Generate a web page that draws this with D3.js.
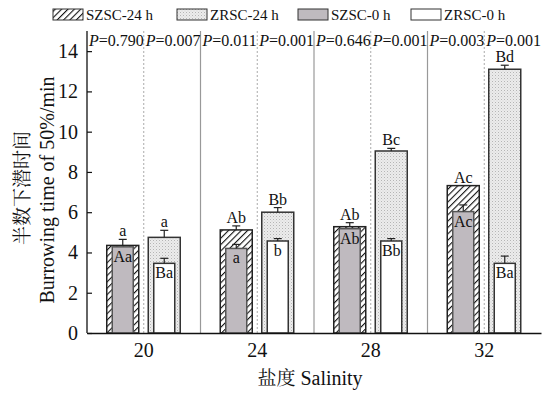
<!DOCTYPE html>
<html>
<head>
<meta charset="utf-8">
<script src="https://cdn.jsdelivr.net/npm/d3@7/dist/d3.min.js"></script>
<style>
  body { margin: 0; background: #fff; }
</style>
</head>
<body>
<div id="chart"></div>
<script>
var salinity = ["20", "24", "28", "32"];
var pValues = [["0.790", "0.007"], ["0.011", "0.001"], ["0.646", "0.001"], ["0.003", "0.001"]];

var szsc24 = [4.35, 5.12, 5.28, 7.32];
var szsc24Err = [0.3, 0.2, 0.2, 0];
var szsc24Lab = ["a", "Ab", "Ab", "Ac"];
var szsc0 = [4.28, 4.2, 5.18, 6.03];
var szsc0Err = [0, 0.2, 0, 0.33];
var szsc0Lab = ["Aa", "a", "Ab", "Ac"];

var zrsc24 = [4.75, 6.0, 9.04, 13.1];
var zrsc24Err = [0.35, 0.23, 0.13, 0.2];
var zrsc24Lab = ["a", "Bb", "Bc", "Bd"];
var zrsc0 = [3.46, 4.57, 4.57, 3.46];
var zrsc0Err = [0.25, 0.12, 0.12, 0.36];
var zrsc0Lab = ["Ba", "b", "Bb", "Ba"];

var yTicks = [0, 2, 4, 6, 8, 10, 12, 14];
var legendNames = ["SZSC-24 h", "ZRSC-24 h", "SZSC-0 h", "ZRSC-0 h"];

var width = 550, height = 394;
var mLeft = 87, mRight = 541, mTop = 31, mBottom = 333;
var serif = "'Liberation Serif', 'Times New Roman', serif";
var cjk = "'Noto Serif CJK SC', 'Noto Sans CJK SC', sans-serif";

var svg = d3.select("#chart").append("svg")
  .attr("width", width).attr("height", height)
  .attr("font-family", serif).attr("fill", "#111");

var defs = svg.append("defs");
var hatch = defs.append("pattern").attr("id", "hatch")
  .attr("patternUnits", "userSpaceOnUse").attr("width", 4.5).attr("height", 4.5)
  .attr("patternTransform", "rotate(45)");
hatch.append("rect").attr("width", 4.5).attr("height", 4.5).attr("fill", "#fff");
hatch.append("line").attr("x1", 0).attr("y1", 0).attr("x2", 0).attr("y2", 4.5)
  .attr("stroke", "#111").attr("stroke-width", 2.2);

var dots = defs.append("pattern").attr("id", "dots")
  .attr("patternUnits", "userSpaceOnUse").attr("width", 3).attr("height", 3);
dots.append("rect").attr("width", 3).attr("height", 3).attr("fill", "#ececec");
dots.append("rect").attr("width", 1).attr("height", 1).attr("fill", "#b5b5b5");
dots.append("rect").attr("x", 1.5).attr("y", 1.5).attr("width", 1).attr("height", 1).attr("fill", "#d0d0d0");

var x = d3.scaleBand().domain(salinity).range([mLeft, mRight]).padding(0);
var bw = x.bandwidth();
var sub = d3.scalePoint().domain(["SZSC", "ZRSC"]).range([bw / 2 - 21, bw / 2 + 20.5]);
var y = d3.scaleLinear().domain([0, 15]).range([mBottom, mTop]);

var outerW = 32, innerW = 21;

// separators
var g = svg.append("g");
g.selectAll(".sep").data(salinity.slice(1)).enter().append("line")
  .attr("x1", function(d) { return x(d); }).attr("x2", function(d) { return x(d); })
  .attr("y1", mTop).attr("y2", mBottom)
  .attr("stroke", "#999").attr("stroke-width", 1.2);
g.selectAll(".mid").data(salinity).enter().append("line")
  .attr("x1", function(d) { return x(d) + bw / 2; }).attr("x2", function(d) { return x(d) + bw / 2; })
  .attr("y1", mTop).attr("y2", mBottom)
  .attr("stroke", "#aaa").attr("stroke-width", 1).attr("stroke-dasharray", "2,2");

// p values
salinity.forEach(function(s, i) {
  ["SZSC", "ZRSC"].forEach(function(k, j) {
    var t = g.append("text")
      .attr("x", x(s) + (j ? bw / 2 : 0) + 2)
      .attr("y", 46).attr("font-size", 16);
    t.append("tspan").attr("font-style", "italic").text("P");
    t.append("tspan").text("=" + pValues[i][j]);
  });
});

function drawBars(vals, errs, labs, key, w, fill, stroke, inside) {
  var cx = function(i) { return x(salinity[i]) + sub(key); };
  var bars = g.append("g");
  bars.selectAll("rect").data(vals).enter().append("rect")
    .attr("x", function(d, i) { return cx(i) - w / 2; })
    .attr("y", function(d) { return y(d); })
    .attr("width", w)
    .attr("height", function(d) { return y(0) - y(d); })
    .attr("fill", fill).attr("stroke", stroke).attr("stroke-width", 1.5);
  vals.forEach(function(v, i) {
    if (errs[i] > 0) {
      bars.append("line").attr("x1", cx(i)).attr("x2", cx(i))
        .attr("y1", y(v)).attr("y2", y(v + errs[i]))
        .attr("stroke", "#222").attr("stroke-width", 1.2);
      bars.append("line").attr("x1", cx(i) - 4).attr("x2", cx(i) + 4)
        .attr("y1", y(v + errs[i])).attr("y2", y(v + errs[i]))
        .attr("stroke", "#222").attr("stroke-width", 1.2);
    }
    bars.append("text").attr("x", cx(i))
      .attr("y", inside ? y(v) + 15 : y(v + errs[i]) - 3)
      .attr("text-anchor", "middle").attr("font-size", 16)
      .text(labs[i]);
  });
}

drawBars(szsc24, szsc24Err, szsc24Lab, "SZSC", outerW, "url(#hatch)", "#222", false);
drawBars(zrsc24, zrsc24Err, zrsc24Lab, "ZRSC", outerW, "url(#dots)", "#333", false);
drawBars(szsc0, szsc0Err, szsc0Lab, "SZSC", innerW, "#bfbabf", "#555", true);
drawBars(zrsc0, zrsc0Err, zrsc0Lab, "ZRSC", innerW, "#fff", "#333", true);

// axes
var yAxis = d3.axisLeft(y).tickValues(yTicks).tickSize(-5).tickPadding(9);
var gy = svg.append("g").attr("transform", "translate(" + mLeft + ",0)").call(yAxis);
gy.attr("font-family", serif).attr("font-size", 20);
gy.select(".domain").attr("stroke", "#111").attr("stroke-width", 1.3).attr("d", "M0," + mTop + "V" + mBottom);
gy.selectAll(".tick line").attr("stroke", "#111").attr("stroke-width", 1.2);
gy.selectAll(".tick text").attr("fill", "#111");

var xAxis = d3.axisBottom(x).tickSize(0).tickPadding(10);
var gx = svg.append("g").attr("transform", "translate(0," + mBottom + ")").call(xAxis);
gx.attr("font-family", serif).attr("font-size", 20);
gx.select(".domain").attr("stroke", "#111").attr("stroke-width", 1.3);
gx.selectAll(".tick text").attr("fill", "#111");

// axis titles
var xt = svg.append("text").attr("x", (mLeft + mRight) / 2 - 4).attr("y", 385)
  .attr("text-anchor", "middle").attr("font-size", 20);
xt.append("tspan").attr("font-family", cjk).attr("font-size", 19).text("盐度");
xt.append("tspan").text(" Salinity");

svg.append("text").attr("font-family", cjk)
  .attr("transform", "translate(29,188) rotate(-90)")
  .attr("text-anchor", "middle").attr("font-size", 19).text("半数下潜时间");
svg.append("text")
  .attr("transform", "translate(54,190) rotate(-90)")
  .attr("text-anchor", "middle").attr("font-size", 20).text("Burrowing time of 50%/min");

// legend
var legFills = ["url(#hatch)", "url(#dots)", "#bfbabf", "#fff"];
var legX = [53, 177, 298, 411];
legendNames.forEach(function(name, i) {
  svg.append("rect").attr("x", legX[i]).attr("y", 9).attr("width", 30).attr("height", 11)
    .attr("fill", legFills[i]).attr("stroke", "#333").attr("stroke-width", 1);
  svg.append("text").attr("x", legX[i] + 33).attr("y", 20).attr("font-size", 15).text(name);
});
</script>
</body>
</html>
